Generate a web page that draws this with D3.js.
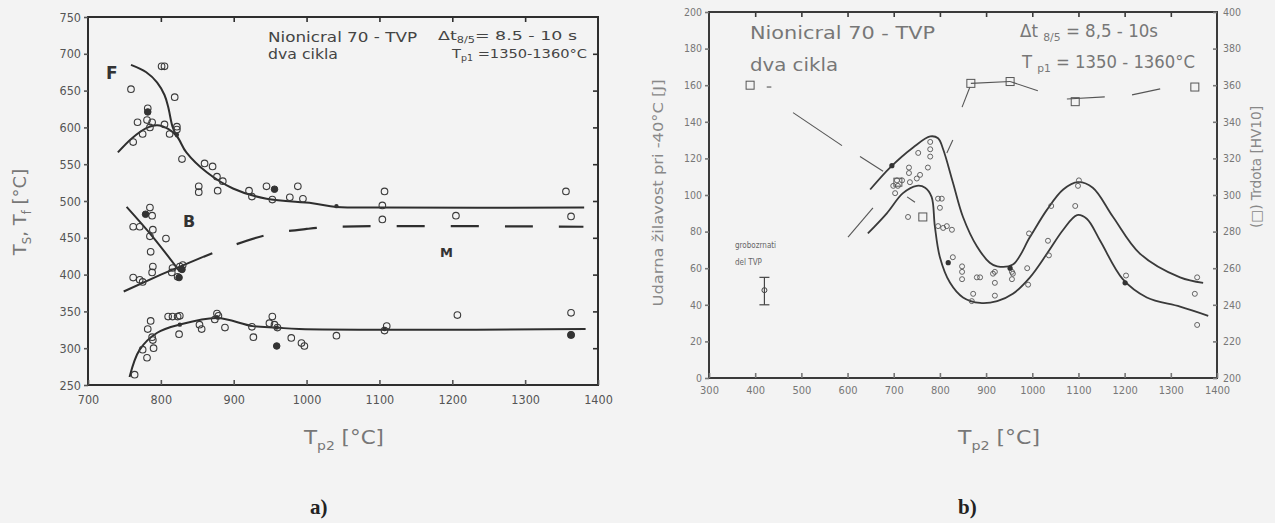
<!DOCTYPE html>
<html><head><meta charset="utf-8">
<script src="https://cdn.jsdelivr.net/npm/d3@7"></script>
<style>
body{margin:0;background:#f3f3f3;}
svg{display:block;}
text{font-family:"Liberation Sans Narrow","DejaVu Sans Condensed","Liberation Sans",sans-serif;}
</style></head>
<body><svg id="c" width="1275" height="523"></svg>
<script>
// ---------- Panel a data ----------
const aXTicks = [700,800,900,1000,1100,1200,1300,1400];
const aYTicks = [250,300,350,400,450,500,550,600,650,700,750];
const aCurveF = [[759,685],[780,675],[795,661],[805,644],[810,628],[816,601],[822,587]];
const aCurveTs = [[741,566],[760,585],[780,599],[795,603],[810,598],[822,588],[835,566],[863,539],[899,517],[945,503],[1008,497],[1041,492],[1104,491],[1381,491]];
const aCurveB = [[753,492],[790,450],[826,404]];
const aCurveBs = [[749,377],[800,400],[858,424]];
const aDashM = [[858,424],[900,440],[950,455],[1000,462],[1040,465],[1380,465]];
const aCurveLow = [[757,261],[771,298],[795,321],[826,332],[877,341],[926,330],[959,328],[990,326],[1383,326]];
const aOpen = [[759,652],[805,683],[801,683],[819,641],[782,626],[768,607],[781,610],[788,607],[762,580],[775,591],[785,600],[805,604],[812,591],[822,601],[822,597],[829,557],[860,551],[871,547],[877,533],[885,527],[852,520],[852,512],[878,514],[921,514],[925,506],[945,520],[953,502],[988,520],[977,505],[995,503],[1107,513],[1104,494],[1104,475],[1205,480],[1356,513],[1363,479],
 [785,491],[788,480],[762,465],[771,465],[789,461],[785,452],[807,449],[786,431],[762,396],[775,390],[771,393],[788,403],[789,411],[815,403],[823,397],[826,411],[830,413],[816,409],
 [764,264],[775,298],[781,287],[788,315],[789,311],[790,300],[782,326],[786,337],[810,343],[816,343],[823,343],[826,344],[825,319],[853,332],[856,326],[877,347],[879,344],[874,339],[888,328],[925,329],[927,315],[949,334],[953,343],[956,332],[960,328],[979,314],[993,307],[997,303],[1041,317],[1110,330],[1107,324],[1207,345],[1363,348],[1363,318]];
const aFilled = [[782,621],[956,516],[779,482],[825,396],[829,407],[959,303],[1363,318]];
const aDots = [[1041,493],[822,590],[826,332],[877,342],[959,328],[1107,326]];

// ---------- Panel b data ----------
const bXTicks = [300,400,500,600,700,800,900,1000,1100,1200,1300,1400];
const bYTicks = [0,20,40,60,80,100,120,140,160,180,200];
const bHTicks = [200,220,240,260,280,300,320,340,360,380,400];
const bUpper = [[649,103],[692,115],[742,126],[779,132],[796,131],[807,125],[828,107],[850,88],[880,72],[908,63],[924,61],[958,62],[995,77],[1032,92],[1067,103],[1099,107],[1131,104],[1175,88],[1233,68],[1320,55],[1370,52]];
const bLower = [[644,79],[685,90],[720,101],[750,105],[768,104],[782,99],[789,83],[800,66],[822,52],[850,44],[887,41],[924,42],[958,46],[995,55],[1032,68],[1067,81],[1097,89],[1118,87],[1147,75],[1196,54],[1248,44],[1320,39],[1381,34]];
const bCircles = [[753,123],[779,129],[779,125],[779,121],[774,115],[733,115],[733,112],[757,111],[707,108],[718,108],[699,105],[709,105],[735,107],[750,109],[703,101],[731,88],[796,98],[804,98],[800,93],[796,83],[807,82],[815,83],[826,81],[828,66],[848,61],[848,58],[848,54],[880,55],[915,57],[919,52],[872,46],[869,42],[919,45],[887,55],[919,58],[956,58],[958,57],[956,54],[989,60],[991,51],[1034,75],[1036,67],[993,79],[1041,94],[1093,94],[1099,105],[1101,108],[1203,56],[1357,55],[1352,46],[1357,29]];
const bFilled = [[952,60],[818,63],[1201,52],[696,116]];
const bSquares = [[389,360],[867,361],[952,362],[1093,351],[1352,359],[763,288],[709,307]];
const bHardSegs = [[[425,359],[435,359]],[[482,345],[588,327]],[[627,321],[677,313]],[[601,277],[655,293]],[[729,299],[746,296]],[[815,323],[828,330]],[[848,348],[865,359]],[[867,361],[952,362]],[[952,362],[1012,357]],[[1075,352.5],[1157,353.6]],[[1216,354.7],[1277,358]]];
const bErr = {x:420, lo:40, mid:48, hi:55};

const svg = d3.select("#c");
svg.append("rect").attr("width",1275).attr("height",523).attr("fill","#f3f3f3");

// ================= PANEL A =================
const xa = d3.scaleLinear([700,1400],[88,598]);
const ya = d3.scaleLinear([250,750],[385,17]);
const ga = svg.append("g");
const inkA = "#2e2e2e";
ga.append("rect").attr("x",xa(700)).attr("y",ya(750)).attr("width",xa(1400)-xa(700)).attr("height",ya(250)-ya(750))
  .attr("fill","none").attr("stroke",inkA).attr("stroke-width",2);
function styleAxis(g, col, fs){
  g.select(".domain").remove();
  g.selectAll("line").attr("stroke",col).attr("stroke-width",1.6);
  g.selectAll("text").attr("fill",col).attr("font-size",fs);
}
ga.append("g").attr("transform",`translate(0,${ya(250)})`)
  .call(d3.axisBottom(xa).tickValues(aXTicks).tickSizeInner(-5).tickSizeOuter(0).tickPadding(10).tickFormat(d3.format("d")))
  .call(g=>styleAxis(g,"#555",12.5));
ga.append("g").attr("transform",`translate(0,${ya(750)})`)
  .call(d3.axisTop(xa).tickValues(aXTicks.slice(1,-1)).tickSizeInner(-5).tickSizeOuter(0).tickFormat(""))
  .call(g=>styleAxis(g,inkA,11));
ga.append("g").attr("transform",`translate(${xa(700)},0)`)
  .call(d3.axisLeft(ya).tickValues(aYTicks).tickSizeInner(4).tickSizeOuter(0).tickPadding(3).tickFormat(d3.format("d")))
  .call(g=>styleAxis(g,"#555",12.5));
ga.append("g").attr("transform",`translate(${xa(1400)},0)`)
  .call(d3.axisRight(ya).tickValues(aYTicks.slice(1,-1)).tickSizeInner(-5).tickSizeOuter(0).tickFormat(""))
  .call(g=>styleAxis(g,inkA,11));

const lineA = d3.line().x(d=>xa(d[0])).y(d=>ya(d[1])).curve(d3.curveCatmullRom.alpha(0.5));
[aCurveF,aCurveTs,aCurveB,aCurveLow].forEach(c=>ga.append("path").attr("d",lineA(c)).attr("fill","none").attr("stroke",inkA).attr("stroke-width",2));
ga.append("path").attr("d",d3.line().x(d=>xa(d[0])).y(d=>ya(d[1]))(aCurveBs)).attr("fill","none").attr("stroke",inkA).attr("stroke-width",2);
ga.append("path").attr("d",lineA(aDashM)).attr("fill","none").attr("stroke",inkA).attr("stroke-width",2.2).attr("stroke-dasharray","28,26").attr("stroke-dashoffset",-36);
ga.selectAll("circle.o").data(aOpen).join("circle").attr("cx",d=>xa(d[0])).attr("cy",d=>ya(d[1])).attr("r",3.3)
  .attr("fill","none").attr("stroke","#3a3a3a").attr("stroke-width",1.1);
ga.selectAll("circle.f").data(aFilled).join("circle").attr("cx",d=>xa(d[0])).attr("cy",d=>ya(d[1])).attr("r",3.3)
  .attr("fill","#333").attr("stroke","#333");
ga.selectAll("circle.d").data(aDots).join("circle").attr("cx",d=>xa(d[0])).attr("cy",d=>ya(d[1])).attr("r",2.2).attr("fill","#333");

function txt(g,x,y,parts,opts){
  const s=opts.size||12;
  const t=g.append("text").attr("x",x).attr("y",y).attr("fill",opts.fill||"#444").attr("font-size",s);
  if(opts.weight) t.attr("font-weight",opts.weight);
  if(opts.family) t.style("font-family",opts.family);
  if(opts.len) t.attr("textLength",opts.len).attr("lengthAdjust","spacingAndGlyphs");
  if(opts.rotate) t.attr("transform",`rotate(-90,${x},${y})`).attr("text-anchor","middle");
  parts.forEach(p=>{
    if(typeof p==="string") t.append("tspan").text(p);
    else t.append("tspan").attr("baseline-shift",`${-s*(opts.subShift||0.3)}px`).attr("font-size",s*0.65).text(p.sub);
  });
  return t;
}
const sansA = '"DejaVu Sans","Liberation Sans",sans-serif';
txt(ga,268,42,["Nionicral 70 - TVP"],{size:14,fill:"#444",family:sansA,len:149});
txt(ga,268,59,["dva cikla"],{size:14,fill:"#444",family:sansA,len:70});
txt(ga,438,40,["\u0394t",{sub:"8/5"},"= 8.5 - 10 s"],{size:13,fill:"#444",family:sansA,len:139,subShift:0.2});
txt(ga,452,58,["T",{sub:"p1"}," =1350-1360°C"],{size:13,fill:"#444",family:sansA,len:135,subShift:0.25});
txt(ga,106,79,["F"],{size:17,weight:"bold",fill:"#333",family:sansA});
txt(ga,183,227,["B"],{size:16,weight:"bold",fill:"#333",family:sansA});
txt(ga,440,257,["M"],{size:13,weight:"bold",fill:"#333",family:sansA});
txt(ga,26,212,["T",{sub:"S"},", T",{sub:"f"}," [°C]"],{size:18,fill:"#777",rotate:true,family:sansA});
txt(ga,304,444,["T",{sub:"p2"}," [°C]"],{size:19,fill:"#777",family:sansA,len:80});
txt(ga,310,514,["a)"],{size:21,weight:"bold",fill:"#222",family:'"Liberation Serif",serif'});

// ================= PANEL B =================
const xb = d3.scaleLinear([300,1400],[709,1217]);
const yb = d3.scaleLinear([0,200],[378,12]);
const yh = d3.scaleLinear([200,400],[378,12]);
const gb = svg.append("g");
const inkB = "#3a3a3a";
gb.append("rect").attr("x",xb(300)).attr("y",yb(200)).attr("width",xb(1400)-xb(300)).attr("height",yb(0)-yb(200))
  .attr("fill","none").attr("stroke",inkB).attr("stroke-width",2);
gb.append("g").attr("transform",`translate(0,${yb(0)})`)
  .call(d3.axisBottom(xb).tickValues(bXTicks).tickSizeInner(-5).tickSizeOuter(0).tickPadding(8).tickFormat(d3.format("d")))
  .call(g=>styleAxis(g,"#777",11));
gb.append("g").attr("transform",`translate(0,${yb(200)})`)
  .call(d3.axisTop(xb).tickValues(bXTicks.slice(1,-1)).tickSizeInner(-5).tickSizeOuter(0).tickFormat(""))
  .call(g=>styleAxis(g,inkB,9));
gb.append("g").attr("transform",`translate(${xb(300)},0)`)
  .call(d3.axisLeft(yb).tickValues(bYTicks).tickSizeInner(4).tickSizeOuter(0).tickPadding(3).tickFormat(d3.format("d")))
  .call(g=>styleAxis(g,"#777",10.5));
gb.append("g").attr("transform",`translate(${xb(1400)},0)`)
  .call(d3.axisRight(yh).tickValues(bHTicks).tickSizeInner(-4).tickSizeOuter(0).tickPadding(6).tickFormat(d3.format("d")))
  .call(g=>styleAxis(g,"#777",10.5));

const lineB = d3.line().x(d=>xb(d[0])).y(d=>yb(d[1])).curve(d3.curveCatmullRom.alpha(0.5));
[bUpper,bLower].forEach(c=>gb.append("path").attr("d",lineB(c)).attr("fill","none").attr("stroke",inkB).attr("stroke-width",1.8));
const lineH = d3.line().x(d=>xb(d[0])).y(d=>yh(d[1]));
gb.selectAll("path.h").data(bHardSegs).join("path").attr("d",d=>lineH(d)).attr("fill","none").attr("stroke","#555").attr("stroke-width",1.1);
gb.selectAll("circle.o").data(bCircles).join("circle").attr("cx",d=>xb(d[0])).attr("cy",d=>yb(d[1])).attr("r",2.5)
  .attr("fill","none").attr("stroke","#555").attr("stroke-width",0.9);
gb.selectAll("circle.f").data(bFilled).join("circle").attr("cx",d=>xb(d[0])).attr("cy",d=>yb(d[1])).attr("r",2.6).attr("fill","#333");
gb.selectAll("rect.s").data(bSquares).join("rect").attr("x",d=>xb(d[0])-4).attr("y",d=>yh(d[1])-4).attr("width",8).attr("height",8)
  .attr("fill","none").attr("stroke","#555").attr("stroke-width",1);
// error bar
const eb = gb.append("g").attr("stroke","#444").attr("stroke-width",1.2);
eb.append("line").attr("x1",xb(bErr.x)).attr("x2",xb(bErr.x)).attr("y1",yb(bErr.lo)).attr("y2",yb(bErr.hi));
[bErr.lo,bErr.hi].forEach(v=>eb.append("line").attr("x1",xb(bErr.x)-5).attr("x2",xb(bErr.x)+5).attr("y1",yb(v)).attr("y2",yb(v)));
gb.append("circle").attr("cx",xb(bErr.x)).attr("cy",yb(bErr.mid)).attr("r",2.5).attr("fill","none").attr("stroke","#444");

const sansB = '"Liberation Sans Narrow","DejaVu Sans Condensed",sans-serif';
txt(gb,750,39,["Nionicral 70 - TVP"],{size:18,fill:"#777",family:sansA,len:185});
txt(gb,750,71,["dva cikla"],{size:18,fill:"#777",family:sansA,len:88});
txt(gb,1020,37,["\u0394t ",{sub:"8/5"}," = 8,5 - 10s"],{size:17,fill:"#777",family:sansB,len:138,subShift:0.25});
txt(gb,1022,68,["T ",{sub:"p1"}," = 1350 - 1360°C"],{size:17,fill:"#777",family:sansB,len:173,subShift:0.25});
txt(gb,735,248,["grobozrnati"],{size:8,fill:"#666",family:sansB});
txt(gb,735,265,["del TVP"],{size:8,fill:"#666",family:sansB});
txt(gb,663,193,["Udarna žilavost pri -40°C [J]"],{size:14,fill:"#888",rotate:true,family:sansA,len:227});
txt(gb,1261,167,["(\u25A1) Trdota [HV10]"],{size:14,fill:"#888",rotate:true,family:sansA,len:122});
txt(gb,958,444,["T",{sub:"p2"}," [°C]"],{size:19,fill:"#777",family:sansA,len:82});
txt(gb,958,514,["b)"],{size:21,weight:"bold",fill:"#222",family:'"Liberation Serif",serif'});
</script></body></html>
